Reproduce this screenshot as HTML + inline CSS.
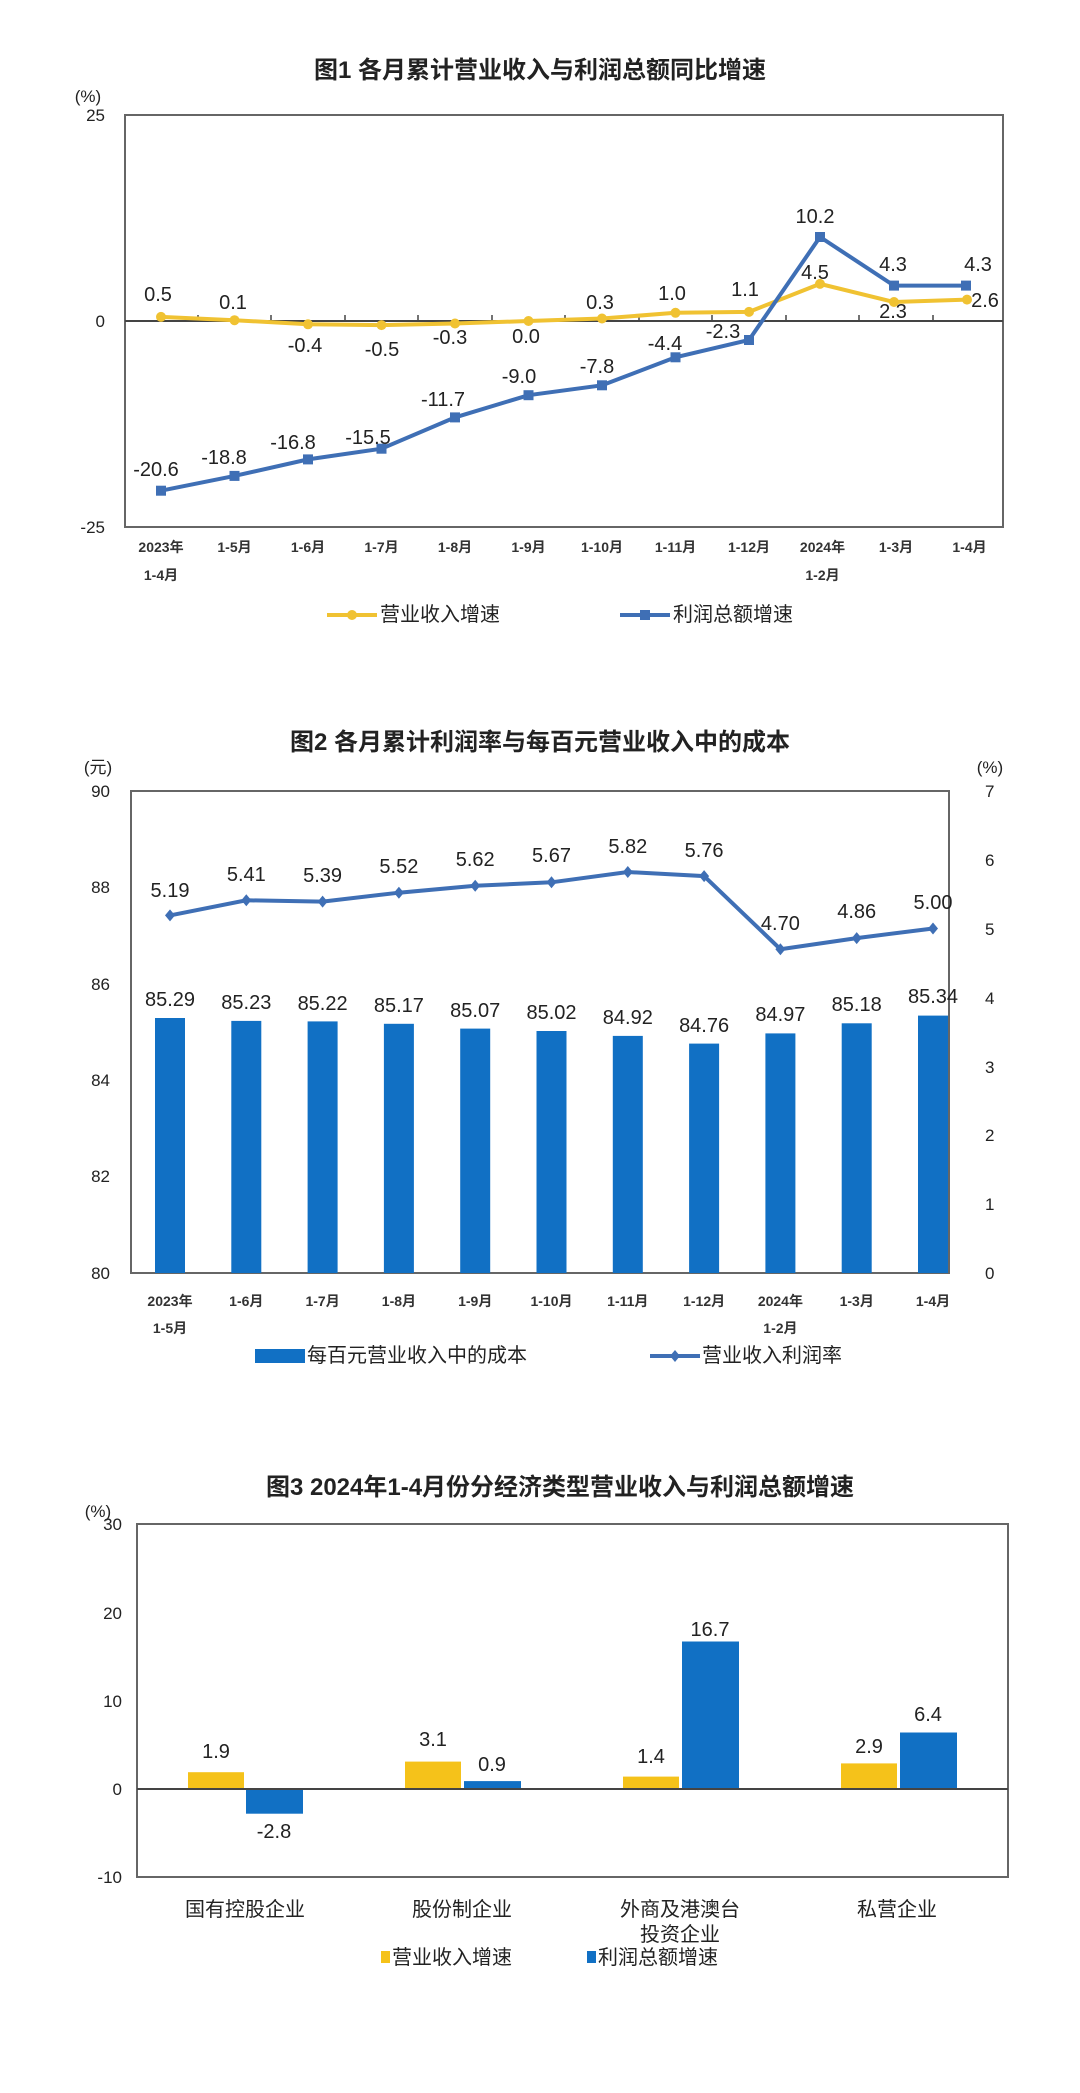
<!DOCTYPE html>
<html><head><meta charset="utf-8"><style>
html,body{margin:0;padding:0;background:#fff;}
svg{display:block;}
text{font-family:"Liberation Sans","Noto Sans CJK SC",sans-serif;fill:#222;}
.t{font-size:24px;font-weight:bold;}
.d{font-size:20px;text-anchor:middle;dominant-baseline:central;}
.ax{font-size:17px;}
.xl{font-size:14px;text-anchor:middle;font-weight:bold;fill:#333;}
.lg{font-size:20px;dominant-baseline:central;}
</style></head><body>
<svg width="1080" height="2093" viewBox="0 0 1080 2093" xmlns="http://www.w3.org/2000/svg">
<!-- ========== Chart 1 ========== -->
<text class="t" x="540" y="78" text-anchor="middle">图1  各月累计营业收入与利润总额同比增速</text>
<text class="ax" x="88" y="102" text-anchor="middle">(%)</text>
<rect x="125" y="115" width="878" height="412" fill="none" stroke="#666" stroke-width="2"/>
<text class="ax" x="105" y="121" text-anchor="end">25</text>
<text class="ax" x="105" y="327" text-anchor="end">0</text>
<text class="ax" x="105" y="533" text-anchor="end">-25</text>
<line x1="125" y1="321" x2="1003" y2="321" stroke="#444" stroke-width="2"/>
<g stroke="#444" stroke-width="1.5">
<line x1="198" y1="321" x2="198" y2="315"/><line x1="271" y1="321" x2="271" y2="315"/><line x1="345" y1="321" x2="345" y2="315"/><line x1="418" y1="321" x2="418" y2="315"/><line x1="492" y1="321" x2="492" y2="315"/><line x1="565" y1="321" x2="565" y2="315"/><line x1="639" y1="321" x2="639" y2="315"/><line x1="712" y1="321" x2="712" y2="315"/><line x1="786" y1="321" x2="786" y2="315"/><line x1="859" y1="321" x2="859" y2="315"/><line x1="933" y1="321" x2="933" y2="315"/>
</g>
<polyline fill="none" stroke="#f0c232" stroke-width="4" points="161,316.9 234.5,320.2 308,324.3 381.5,325.1 455,323.5 528.5,321 602,318.5 675.5,312.8 749,311.9 820,283.9 894,302 967,299.6"/>
<g fill="#f0c232">
<circle cx="161" cy="316.9" r="5"/><circle cx="234.5" cy="320.2" r="5"/><circle cx="308" cy="324.3" r="5"/><circle cx="381.5" cy="325.1" r="5"/><circle cx="455" cy="323.5" r="5"/><circle cx="528.5" cy="321" r="5"/><circle cx="602" cy="318.5" r="5"/><circle cx="675.5" cy="312.8" r="5"/><circle cx="749" cy="311.9" r="5"/><circle cx="820" cy="283.9" r="5"/><circle cx="894" cy="302" r="5"/><circle cx="967" cy="299.6" r="5"/>
</g>
<polyline fill="none" stroke="#3f6fb5" stroke-width="4" points="161,490.7 234.5,475.9 308,459.4 381.5,448.7 455,417.4 528.5,395.2 602,385.3 675.5,357.3 749,340 820,237 894,285.6 966,285.6"/>
<g fill="#3f6fb5">
<rect x="156" y="485.7" width="10" height="10"/><rect x="229.5" y="470.9" width="10" height="10"/><rect x="303" y="454.4" width="10" height="10"/><rect x="376.5" y="443.7" width="10" height="10"/><rect x="450" y="412.4" width="10" height="10"/><rect x="523.5" y="390.2" width="10" height="10"/><rect x="597" y="380.3" width="10" height="10"/><rect x="670.5" y="352.3" width="10" height="10"/><rect x="744" y="335" width="10" height="10"/><rect x="815" y="232" width="10" height="10"/><rect x="889" y="280.6" width="10" height="10"/><rect x="961" y="280.6" width="10" height="10"/>
</g>
<text class="d" x="158" y="295">0.5</text><text class="d" x="233" y="303">0.1</text><text class="d" x="305" y="346">-0.4</text><text class="d" x="382" y="350">-0.5</text><text class="d" x="450" y="338">-0.3</text><text class="d" x="526" y="337">0.0</text><text class="d" x="600" y="303">0.3</text><text class="d" x="672" y="294">1.0</text><text class="d" x="745" y="290">1.1</text><text class="d" x="815" y="273">4.5</text><text class="d" x="893" y="312">2.3</text><text class="d" x="985" y="301">2.6</text>
<text class="d" x="156" y="470">-20.6</text><text class="d" x="224" y="458">-18.8</text><text class="d" x="293" y="443">-16.8</text><text class="d" x="368" y="438">-15.5</text><text class="d" x="443" y="400">-11.7</text><text class="d" x="519" y="377">-9.0</text><text class="d" x="597" y="367">-7.8</text><text class="d" x="665" y="344">-4.4</text><text class="d" x="723" y="332">-2.3</text><text class="d" x="815" y="217">10.2</text><text class="d" x="893" y="265">4.3</text><text class="d" x="978" y="265">4.3</text>
<text class="xl" x="161" y="552">2023年</text><text class="xl" x="161" y="580">1-4月</text>
<text class="xl" x="234.5" y="552">1-5月</text><text class="xl" x="308" y="552">1-6月</text><text class="xl" x="381.5" y="552">1-7月</text><text class="xl" x="455" y="552">1-8月</text><text class="xl" x="528.5" y="552">1-9月</text><text class="xl" x="602" y="552">1-10月</text><text class="xl" x="675.5" y="552">1-11月</text><text class="xl" x="749" y="552">1-12月</text><text class="xl" x="822.5" y="552">2024年</text><text class="xl" x="822.5" y="580">1-2月</text><text class="xl" x="896" y="552">1-3月</text><text class="xl" x="969.5" y="552">1-4月</text>
<line x1="327" y1="615" x2="377" y2="615" stroke="#f0c232" stroke-width="4"/><circle cx="352" cy="615" r="5" fill="#f0c232"/>
<text class="lg" x="380" y="615">营业收入增速</text>
<line x1="620" y1="615" x2="670" y2="615" stroke="#3f6fb5" stroke-width="4"/><rect x="640" y="610" width="10" height="10" fill="#3f6fb5"/>
<text class="lg" x="673" y="615">利润总额增速</text>

<!-- ========== Chart 2 ========== -->
<text class="t" x="540" y="750" text-anchor="middle">图2  各月累计利润率与每百元营业收入中的成本</text>
<text class="ax" x="98" y="773" text-anchor="middle">(元)</text>
<text class="ax" x="990" y="773" text-anchor="middle">(%)</text>
<rect x="131" y="791" width="818" height="482" fill="none" stroke="#666" stroke-width="2"/>
<g class="ax">
<text x="110" y="797" text-anchor="end">90</text><text x="110" y="893" text-anchor="end">88</text><text x="110" y="990" text-anchor="end">86</text><text x="110" y="1086" text-anchor="end">84</text><text x="110" y="1182" text-anchor="end">82</text><text x="110" y="1279" text-anchor="end">80</text>
<text x="985" y="797">7</text><text x="985" y="866">6</text><text x="985" y="935">5</text><text x="985" y="1004">4</text><text x="985" y="1073">3</text><text x="985" y="1141">2</text><text x="985" y="1210">1</text><text x="985" y="1279">0</text>
</g>
<g fill="#1170c4">
<rect x="155" y="1018" width="30" height="255"/><rect x="231.3" y="1020.9" width="30" height="252.1"/><rect x="307.6" y="1021.4" width="30" height="251.6"/><rect x="383.9" y="1023.8" width="30" height="249.2"/><rect x="460.2" y="1028.6" width="30" height="244.4"/><rect x="536.5" y="1031" width="30" height="242"/><rect x="612.8" y="1035.9" width="30" height="237.1"/><rect x="689.1" y="1043.6" width="30" height="229.4"/><rect x="765.4" y="1033.4" width="30" height="239.6"/><rect x="841.7" y="1023.3" width="30" height="249.7"/><rect x="918" y="1015.6" width="30" height="257.4"/>
</g>
<text class="d" x="170" y="1000">85.29</text><text class="d" x="246.3" y="1003">85.23</text><text class="d" x="322.6" y="1004">85.22</text><text class="d" x="398.9" y="1006">85.17</text><text class="d" x="475.2" y="1011">85.07</text><text class="d" x="551.5" y="1013">85.02</text><text class="d" x="627.8" y="1018">84.92</text><text class="d" x="704.1" y="1026">84.76</text><text class="d" x="780.4" y="1015">84.97</text><text class="d" x="856.7" y="1005">85.18</text><text class="d" x="933" y="997">85.34</text>
<polyline fill="none" stroke="#3f6fb5" stroke-width="4" points="170,915.4 246.3,900.3 322.6,901.6 398.9,892.7 475.2,885.8 551.5,882.3 627.8,872 704.1,876.1 780.4,949.2 856.7,938.1 933,928.5"/>
<g fill="#3f6fb5">
<path d="M170 909.4l5 6-5 6-5-6z"/><path d="M246.3 894.3l5 6-5 6-5-6z"/><path d="M322.6 895.6l5 6-5 6-5-6z"/><path d="M398.9 886.7l5 6-5 6-5-6z"/><path d="M475.2 879.8l5 6-5 6-5-6z"/><path d="M551.5 876.3l5 6-5 6-5-6z"/><path d="M627.8 866l5 6-5 6-5-6z"/><path d="M704.1 870.1l5 6-5 6-5-6z"/><path d="M780.4 943.2l5 6-5 6-5-6z"/><path d="M856.7 932.1l5 6-5 6-5-6z"/><path d="M933 922.5l5 6-5 6-5-6z"/>
</g>
<text class="d" x="170" y="891">5.19</text><text class="d" x="246.3" y="875">5.41</text><text class="d" x="322.6" y="876">5.39</text><text class="d" x="398.9" y="867">5.52</text><text class="d" x="475.2" y="860">5.62</text><text class="d" x="551.5" y="856">5.67</text><text class="d" x="627.8" y="847">5.82</text><text class="d" x="704.1" y="851">5.76</text><text class="d" x="780.4" y="924">4.70</text><text class="d" x="856.7" y="912">4.86</text><text class="d" x="933" y="903">5.00</text>
<text class="xl" x="170" y="1306">2023年</text><text class="xl" x="170" y="1333">1-5月</text>
<text class="xl" x="246.3" y="1306">1-6月</text><text class="xl" x="322.6" y="1306">1-7月</text><text class="xl" x="398.9" y="1306">1-8月</text><text class="xl" x="475.2" y="1306">1-9月</text><text class="xl" x="551.5" y="1306">1-10月</text><text class="xl" x="627.8" y="1306">1-11月</text><text class="xl" x="704.1" y="1306">1-12月</text><text class="xl" x="780.4" y="1306">2024年</text><text class="xl" x="780.4" y="1333">1-2月</text><text class="xl" x="856.7" y="1306">1-3月</text><text class="xl" x="933" y="1306">1-4月</text>
<rect x="255" y="1349" width="50" height="14" fill="#1170c4"/>
<text class="lg" x="307" y="1356">每百元营业收入中的成本</text>
<line x1="650" y1="1356" x2="700" y2="1356" stroke="#3f6fb5" stroke-width="4"/><path d="M675 1350l5 6-5 6-5-6z" fill="#3f6fb5"/>
<text class="lg" x="702" y="1356">营业收入利润率</text>

<!-- ========== Chart 3 ========== -->
<text class="t" x="560" y="1495" text-anchor="middle">图3  2024年1-4月份分经济类型营业收入与利润总额增速</text>
<text class="ax" x="98" y="1517" text-anchor="middle">(%)</text>
<rect x="137" y="1524" width="871" height="353" fill="none" stroke="#666" stroke-width="2"/>
<g class="ax">
<text x="122" y="1530" text-anchor="end">30</text><text x="122" y="1619" text-anchor="end">20</text><text x="122" y="1707" text-anchor="end">10</text><text x="122" y="1795" text-anchor="end">0</text><text x="122" y="1883" text-anchor="end">-10</text>
</g>
<g fill="#f5c21a">
<rect x="188" y="1772.2" width="56" height="16.8"/><rect x="405" y="1761.6" width="56" height="27.4"/><rect x="623" y="1776.6" width="56" height="12.4"/><rect x="841" y="1763.4" width="56" height="25.6"/>
</g>
<g fill="#1170c4">
<rect x="246" y="1789" width="57" height="24.7"/><rect x="464" y="1781.1" width="57" height="7.9"/><rect x="682" y="1641.5" width="57" height="147.5"/><rect x="900" y="1732.5" width="57" height="56.5"/>
</g>
<line x1="137" y1="1789" x2="1008" y2="1789" stroke="#444" stroke-width="2"/>
<text class="d" x="216" y="1752">1.9</text><text class="d" x="274" y="1832">-2.8</text>
<text class="d" x="433" y="1740">3.1</text><text class="d" x="492" y="1765">0.9</text>
<text class="d" x="651" y="1757">1.4</text><text class="d" x="710" y="1630">16.7</text>
<text class="d" x="869" y="1747">2.9</text><text class="d" x="928" y="1715">6.4</text>
<g class="lg" text-anchor="middle">
<text x="245" y="1910">国有控股企业</text><text x="462" y="1910">股份制企业</text><text x="680" y="1910">外商及港澳台</text><text x="680" y="1935">投资企业</text><text x="897" y="1910">私营企业</text>
</g>
<rect x="381" y="1951" width="9" height="12" fill="#f5c21a"/>
<text class="lg" x="392" y="1958">营业收入增速</text>
<rect x="587" y="1951" width="9" height="12" fill="#1170c4"/>
<text class="lg" x="598" y="1958">利润总额增速</text>
</svg>
</body></html>
